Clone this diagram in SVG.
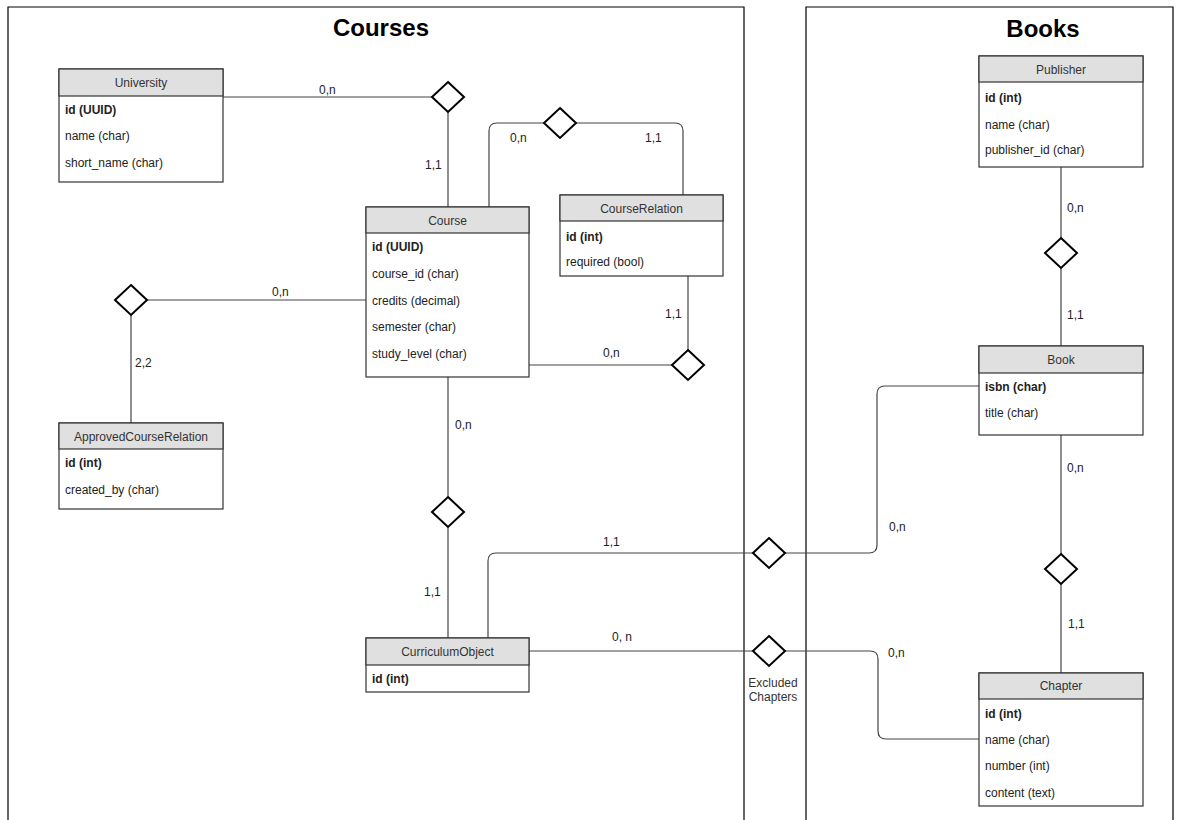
<svg xmlns="http://www.w3.org/2000/svg" width="1178" height="820" viewBox="0 0 1178 820">
  <style>
    .pool { fill: none; stroke: #000; stroke-width: 1.2; }
    .title { font-family: "Liberation Sans", Arial, sans-serif; font-size: 24px; font-weight: bold; fill: #000; text-anchor: middle; }
    .box { fill: #fff; stroke: #333; stroke-width: 1.2; }
    .head { fill: #e0e0e0; stroke: #333; stroke-width: 1.2; }
    .hname { font-family: "Liberation Sans", Arial, sans-serif; font-size: 12px; fill: #333; text-anchor: middle; }
    .attr { font-family: "Liberation Sans", Arial, sans-serif; font-size: 12px; fill: #222; }
    .key { font-weight: bold; }
    .edge { fill: none; stroke: #444; stroke-width: 1.2; }
    .rel { fill: #fff; stroke: #000; stroke-width: 2; }
    .card { font-family: "Liberation Sans", Arial, sans-serif; font-size: 12px; fill: #222; }
    .note { font-family: "Liberation Sans", Arial, sans-serif; font-size: 12px; fill: #333; text-anchor: middle; }
  </style>
  <defs>
    <polygon id="diamond" points="0,-15 16,0 0,15 -16,0"/>
  </defs>

  <!-- swimlane containers -->
  <g id="lane-courses">
    <path class="pool" d="M8,830 V7 H744 V830"/>
    <text class="title" x="381" y="36">Courses</text>
  </g>
  <g id="lane-books">
    <path class="pool" d="M806,830 V7 H1173 V830"/>
    <text class="title" x="1043" y="37">Books</text>
  </g>

  <!-- connectors -->
  <g id="connectors">
    <path class="edge" d="M223,97 H432"/>
    <path class="edge" d="M448,112 V207"/>
    <path class="edge" d="M489,207 V131 Q489,123 497,123 H544"/>
    <path class="edge" d="M576,123 H675 Q683,123 683,131 V195"/>
    <path class="edge" d="M688,276 V350"/>
    <path class="edge" d="M529,365 H672"/>
    <path class="edge" d="M147,300 H366"/>
    <path class="edge" d="M131,315 V423"/>
    <path class="edge" d="M448,377 V497"/>
    <path class="edge" d="M448,527 V638"/>
    <path class="edge" d="M488,638 V561 Q488,553 496,553 H753"/>
    <path class="edge" d="M785,553 H869 Q877,553 877,545 V394 Q877,386 885,386 H979"/>
    <path class="edge" d="M529,651 H753"/>
    <path class="edge" d="M785,651 H870 Q878,651 878,659 V731 Q878,739 886,739 H979"/>
    <path class="edge" d="M1061,167 V238"/>
    <path class="edge" d="M1061,268 V346"/>
    <path class="edge" d="M1061,435 V554"/>
    <path class="edge" d="M1061,584 V673"/>

    <!-- relationship diamonds -->
    <use href="#diamond" class="rel" x="448" y="97"/>
    <use href="#diamond" class="rel" x="560" y="123"/>
    <use href="#diamond" class="rel" x="688" y="365"/>
    <use href="#diamond" class="rel" x="131" y="300"/>
    <use href="#diamond" class="rel" x="448" y="512"/>
    <use href="#diamond" class="rel" x="769" y="553"/>
    <use href="#diamond" class="rel" x="769" y="651"/>
    <use href="#diamond" class="rel" x="1061" y="253"/>
    <use href="#diamond" class="rel" x="1061" y="569"/>

    <!-- cardinalities -->
    <text class="card" x="319" y="94">0,n</text>
    <text class="card" x="425" y="169">1,1</text>
    <text class="card" x="510" y="142">0,n</text>
    <text class="card" x="645" y="142">1,1</text>
    <text class="card" x="665" y="318">1,1</text>
    <text class="card" x="603" y="357">0,n</text>
    <text class="card" x="272" y="296">0,n</text>
    <text class="card" x="135" y="367">2,2</text>
    <text class="card" x="455" y="429">0,n</text>
    <text class="card" x="424" y="596">1,1</text>
    <text class="card" x="603" y="546">1,1</text>
    <text class="card" x="612" y="641">0, n</text>
    <text class="card" x="889" y="531">0,n</text>
    <text class="card" x="888" y="657">0,n</text>
    <text class="card" x="1067" y="212">0,n</text>
    <text class="card" x="1067" y="319">1,1</text>
    <text class="card" x="1067" y="472">0,n</text>
    <text class="card" x="1068" y="628">1,1</text>
    <text class="note" x="773" y="687">Excluded</text>
    <text class="note" x="773" y="701">Chapters</text>
  </g>

  <!-- entities -->
  <g id="University">
    <rect class="box" x="59" y="69" width="164" height="113"/>
    <rect class="head" x="59" y="69" width="164" height="27"/>
    <text class="hname" x="141" y="87">University</text>
    <text class="attr key" x="65" y="114">id (UUID)</text>
    <text class="attr" x="65" y="140">name (char)</text>
    <text class="attr" x="65" y="167">short_name (char)</text>
  </g>

  <g id="Course">
    <rect class="box" x="366" y="207" width="163" height="170"/>
    <rect class="head" x="366" y="207" width="163" height="26"/>
    <text class="hname" x="447.5" y="225">Course</text>
    <text class="attr key" x="372" y="251">id (UUID)</text>
    <text class="attr" x="372" y="278">course_id (char)</text>
    <text class="attr" x="372" y="305">credits (decimal)</text>
    <text class="attr" x="372" y="331">semester (char)</text>
    <text class="attr" x="372" y="358">study_level (char)</text>
  </g>

  <g id="CourseRelation">
    <rect class="box" x="560" y="195" width="163" height="81"/>
    <rect class="head" x="560" y="195" width="163" height="26"/>
    <text class="hname" x="641.5" y="213">CourseRelation</text>
    <text class="attr key" x="566" y="241">id (int)</text>
    <text class="attr" x="566" y="266">required (bool)</text>
  </g>

  <g id="ApprovedCourseRelation">
    <rect class="box" x="59" y="423" width="164" height="86"/>
    <rect class="head" x="59" y="423" width="164" height="26"/>
    <text class="hname" x="141" y="441">ApprovedCourseRelation</text>
    <text class="attr key" x="65" y="467">id (int)</text>
    <text class="attr" x="65" y="494">created_by (char)</text>
  </g>

  <g id="CurriculumObject">
    <rect class="box" x="366" y="638" width="163" height="54"/>
    <rect class="head" x="366" y="638" width="163" height="27"/>
    <text class="hname" x="447.5" y="656">CurriculumObject</text>
    <text class="attr key" x="372" y="683">id (int)</text>
  </g>

  <g id="Publisher">
    <rect class="box" x="979" y="56" width="164" height="111"/>
    <rect class="head" x="979" y="56" width="164" height="26"/>
    <text class="hname" x="1061" y="74">Publisher</text>
    <text class="attr key" x="985" y="102">id (int)</text>
    <text class="attr" x="985" y="129">name (char)</text>
    <text class="attr" x="985" y="154">publisher_id (char)</text>
  </g>

  <g id="Book">
    <rect class="box" x="979" y="346" width="164" height="89"/>
    <rect class="head" x="979" y="346" width="164" height="27"/>
    <text class="hname" x="1061" y="364">Book</text>
    <text class="attr key" x="985" y="391">isbn (char)</text>
    <text class="attr" x="985" y="417">title (char)</text>
  </g>

  <g id="Chapter">
    <rect class="box" x="979" y="673" width="164" height="133"/>
    <rect class="head" x="979" y="673" width="164" height="26"/>
    <text class="hname" x="1061" y="690">Chapter</text>
    <text class="attr key" x="985" y="718">id (int)</text>
    <text class="attr" x="985" y="744">name (char)</text>
    <text class="attr" x="985" y="770">number (int)</text>
    <text class="attr" x="985" y="797">content (text)</text>
  </g>
</svg>
